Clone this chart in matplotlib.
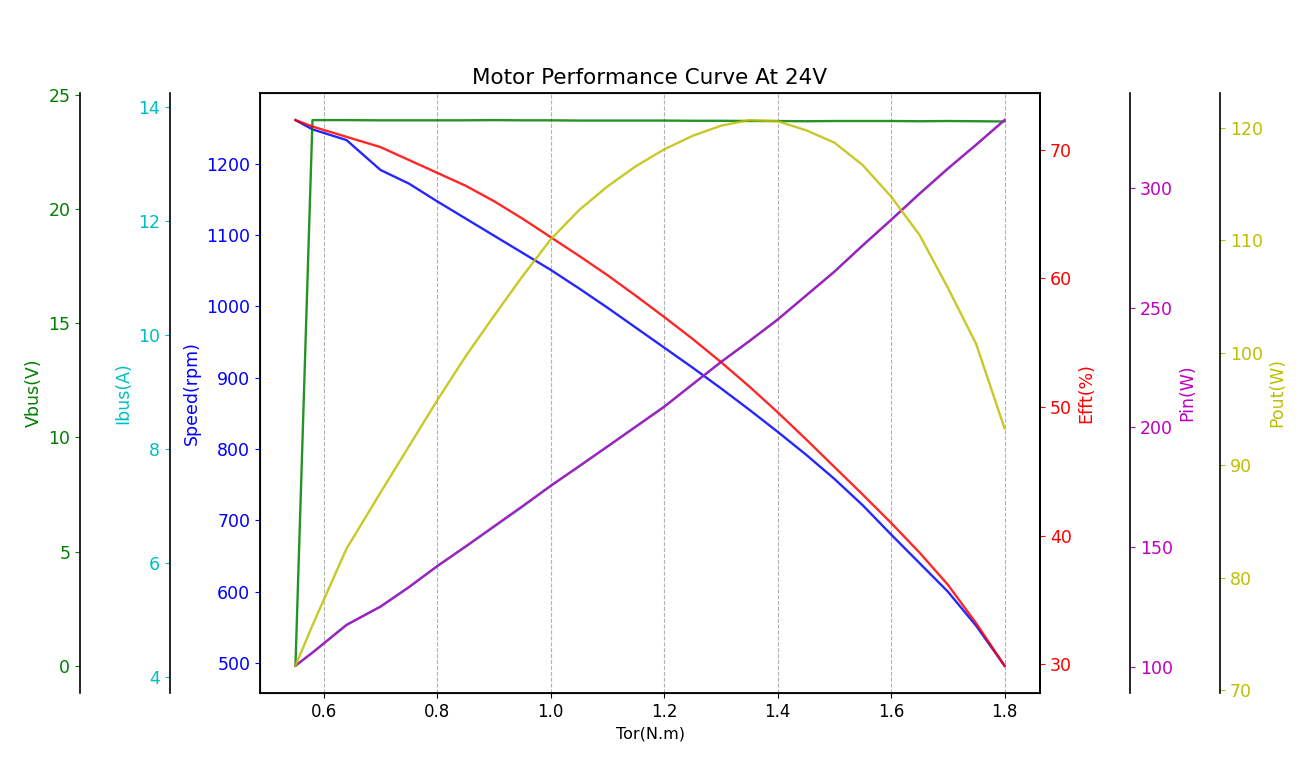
import matplotlib
matplotlib.use("Agg")
import matplotlib.pyplot as plt

torque = [0.55, 0.58, 0.64, 0.70, 0.75, 0.80, 0.85, 0.90, 0.95, 1.00, 1.05, 1.10, 1.15,
          1.20, 1.25, 1.30, 1.35, 1.40, 1.45, 1.50, 1.55, 1.60, 1.65, 1.70, 1.75, 1.80]
vbus = [0.0, 23.88, 23.88, 23.87, 23.87, 23.87, 23.87, 23.88, 23.87, 23.87, 23.86, 23.86, 23.86,
        23.86, 23.85, 23.85, 23.84, 23.84, 23.83, 23.84, 23.84, 23.84, 23.83, 23.84, 23.83, 23.82]
ibus = [4.19, 4.42, 4.91, 5.23, 5.57, 5.94, 6.28, 6.63, 6.98, 7.35, 7.69, 8.04, 8.39,
        8.74, 9.13, 9.52, 9.89, 10.27, 10.69, 11.11, 11.57, 12.02, 12.48, 12.92, 13.34, 13.77]
speed = [1261, 1248, 1233, 1191, 1172, 1147, 1123, 1099, 1075, 1051, 1025, 998, 970,
         942, 914, 885, 855, 824, 792, 758, 721, 680, 640, 600, 552, 496]
efft = [72.3, 71.8, 71.0, 70.2, 69.2, 68.2, 67.2, 66.0, 64.65, 63.2, 61.75, 60.25, 58.65,
        57.0, 55.3, 53.5, 51.6, 49.6, 47.5, 45.35, 43.2, 41.0, 38.7, 36.2, 33.2, 29.9]
pin = [100.5, 106.0, 117.5, 125.2, 133.3, 142.1, 150.3, 158.7, 167.1, 175.6, 183.8, 192.0, 200.3,
       208.6, 218.0, 227.3, 236.0, 245.0, 255.0, 265.0, 276.0, 286.6, 297.5, 308.0, 318.0, 328.3]
pout = [72.2, 75.8, 82.6, 87.6, 91.7, 95.8, 99.7, 103.3, 106.8, 110.1, 112.7, 114.8, 116.6,
        118.1, 119.3, 120.2, 120.7, 120.6, 119.8, 118.7, 116.7, 113.9, 110.5, 105.8, 100.8, 93.3]

title = "Motor Performance Curve At 24V"
xlabel = "Tor(N.m)"

TICK = 12.5
LW = 1.7
ALPHA = 0.85

fig = plt.figure(figsize=(13, 7.8), dpi=100)
ax = fig.add_axes([0.2, 0.1115, 0.6, 0.7695])

ax.plot(torque, speed, color='b', lw=LW, alpha=ALPHA)
ax.set_ylabel("Speed(rpm)", color='b', fontsize=TICK)
ax.tick_params(axis='y', colors='b', labelsize=TICK)
ax.tick_params(axis='x', labelsize=12)
ax.grid(axis='x', linestyle='--', color='gray', alpha=0.6, lw=0.8)
ax.set_xlabel(xlabel, fontsize=11.5)
ax.set_title(title, fontsize=15.5)
for sp in ax.spines.values():
    sp.set_linewidth(1.3)

def left_twin(offset, data, label, color):
    t = ax.twinx()
    t.spines['left'].set_position(('axes', offset))
    t.spines['left'].set_visible(True)
    t.spines['right'].set_visible(False)
    t.spines['top'].set_visible(False)
    t.spines['bottom'].set_visible(False)
    t.yaxis.set_label_position('left')
    t.yaxis.set_ticks_position('left')
    t.plot(torque, data, color=color, lw=LW, alpha=ALPHA)
    t.set_ylabel(label, color=color, fontsize=TICK)
    t.tick_params(axis='y', colors=color, labelsize=TICK)
    t.spines['left'].set_color('black')
    t.spines['left'].set_linewidth(1.2)
    return t

def right_twin(offset, data, label, color):
    t = ax.twinx()
    if offset != 1.0:
        t.spines['right'].set_position(('axes', offset))
        t.spines['left'].set_visible(False)
        t.spines['top'].set_visible(False)
        t.spines['bottom'].set_visible(False)
    t.plot(torque, data, color=color, lw=LW, alpha=ALPHA)
    t.set_ylabel(label, color=color, fontsize=TICK)
    t.tick_params(axis='y', colors=color, labelsize=TICK)
    t.spines['right'].set_color('black')
    t.spines['right'].set_linewidth(1.2)
    return t

left_twin(-0.2308, vbus, "Vbus(V)", 'g')
left_twin(-0.1154, ibus, "Ibus(A)", 'c')
right_twin(1.0, efft, "Efft(%)", 'r')
right_twin(1.1154, pin, "Pin(W)", 'm')
right_twin(1.2308, pout, "Pout(W)", 'y')

fig.savefig("out.png", dpi=100)
